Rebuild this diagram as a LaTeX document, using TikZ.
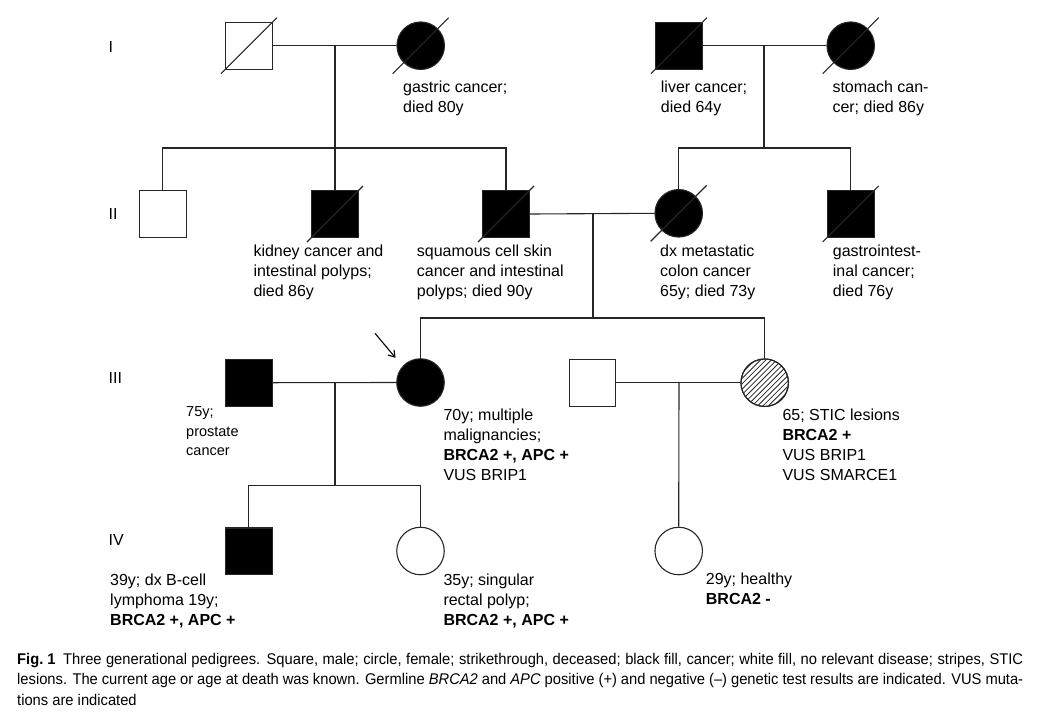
\documentclass[tikz,border=0pt]{standalone}
\usepackage{fontspec}
\setmainfont{Liberation Sans}
\newfontfamily\capfont[FakeStretch=0.95,Ligatures=TeX]{Liberation Sans}
\usetikzlibrary{calc,arrows.meta}
\newcommand\strikeout[1]{\draw[ln] ($(#1.center)+(-28,28)$) -- ($(#1.center)+(28,-28)$);}
\begin{document}
\begin{tikzpicture}[x=1pt,y=-1pt,
  ln/.style={line width=1.1pt,draw=black!85},
  sq/.style={rectangle,draw=black!85,line width=1.1pt,minimum size=46.7pt,inner sep=0pt,fill=white},
  ci/.style={circle,draw=black!85,line width=1.1pt,minimum size=47.5pt,inner sep=0pt,fill=white},
  aff/.style={fill=black},
  lbl/.style={anchor=base west,align=left,inner sep=0pt,font=\fontsize{16}{20}\selectfont},
  slbl/.style={anchor=base west,align=left,inner sep=0pt,font=\fontsize{14.5}{19.3}\selectfont},
  gen/.style={anchor=west,inner sep=0pt,font=\fontsize{16}{20}\selectfont}]
\useasboundingbox (0,0) rectangle (1042,724);
\fill[white] (0,0) rectangle (1042,724);

% generation labels
\node[gen] (gI) at (108.5,47) {I};
\node[gen] (gII) at (108.5,214) {II};
\node[gen] (gIII) at (108.5,378) {III};
\node[gen] (gIV) at (108.5,540) {IV};

% coordinates for couple midpoints and sibship lines
\coordinate (mI1) at (335,45.7);
\coordinate (sI1) at (335,148);
\coordinate (mI2) at (764,45.7);
\coordinate (sI2) at (764,148);
\coordinate (mII) at (593,213.3);
\coordinate (sII) at (593,318);
\coordinate (mIII1) at (335,382.5);
\coordinate (sIII1) at (335,485.7);
\coordinate (mIII2) at (679,382.7);

% Generation I
\node[sq] (I1) at (249,45.7) {};
\node[ci,aff] (I2) at (420.7,45.7) {};
\node[sq,aff] (I3) at (679,45.7) {};
\node[ci,aff] (I4) at (850.7,45.7) {};

% Generation II
\node[sq] (II1) at (162.7,214) {};
\node[sq,aff] (II2) at (335,214) {};
\node[sq,aff] (II3) at (506,214) {};
\node[ci,aff] (II4) at (678.7,213.3) {};
\node[sq,aff] (II5) at (850.7,214) {};

% Generation III
\node[sq,aff] (III1) at (248.7,382.7) {};
\node[ci,aff] (III2) at (420.5,382.5) {};
\node[sq] (III3) at (592.5,382.7) {};
\node[ci] (III4) at (764.7,382.7) {};

% Generation IV
\node[sq,aff] (IV1) at (248.7,551.3) {};
\node[ci] (IV2) at (420.5,551) {};
\node[ci] (IV3) at (678.7,551) {};

% hatching of III4
\begin{scope}[shift={(III4.center)}]
  \clip (0,0) circle (23.2);
  \foreach \i in {-6,...,6}
    \draw[line width=0.8pt,black!85] ({\i*3.8*0.7071-30},{\i*3.8*0.7071+30}) -- ({\i*3.8*0.7071+30},{\i*3.8*0.7071-30});
\end{scope}
\draw[ln] (III4) circle (23.75);

% couple lines
\draw[ln] (I1.east) -- (I2.west);
\draw[ln] (I3.east) -- (I4.west);
\draw[ln] (II3.east) -- (II4.west);
\draw[ln] (III1.east) -- (III2.west);
\draw[ln] (III3.east) -- (III4.west);

% descent lines
\draw[ln] (mI1) -- (sI1);
\draw[ln] (II1.north) |- (sI1) -| (II3.north);
\draw[ln] (II2.north) -- (II2.north |- sI1);
\draw[ln] (mI2) -- (sI2);
\draw[ln] (II4.north) |- (sI2) -| (II5.north);
\draw[ln] (mII) -- (sII);
\draw[ln] (III2.north) |- (sII) -| (III4.north);
\draw[ln] (mIII1) -- (sIII1);
\draw[ln] (IV1.north) |- (sIII1) -| (IV2.north);
\draw[ln] (mIII2) -- (IV3.north);

% deceased strikes
\strikeout{I1}
\strikeout{I2}
\strikeout{I3}
\strikeout{I4}
\strikeout{II2}
\strikeout{II3}
\strikeout{II4}
\strikeout{II5}

% proband arrow
\coordinate (arrS) at (375,333.3);
\coordinate (arrE) at (395.5,357.8);
\draw[line width=1.1pt,black,-{Straight Barb[length=6pt,width=8pt]}] (arrS) -- (arrE);

% labels (anchored at the baseline of the last line)
\node[lbl] (tI2) at (403,112.7) {gastric cancer;\\died 80y};
\node[lbl] (tI3) at (660.7,112.7) {liver cancer;\\died 64y};
\node[lbl] (tI4) at (832.3,112.7) {stomach can-\\cer; died 86y};
\node[lbl] (tII2) at (253.3,296.3) {kidney cancer and\\intestinal polyps;\\died 86y};
\node[lbl] (tII3) at (416.7,296.3) {squamous cell skin\\cancer and intestinal\\polyps; died 90y};
\node[lbl] (tII4) at (660,296.3) {dx metastatic\\colon cancer\\65y; died 73y};
\node[lbl] (tII5) at (832.7,296.3) {gastrointest-\\inal cancer;\\died 76y};
\node[slbl] (tIII1) at (186,455.3) {75y;\\prostate\\cancer};
\node[lbl] (tIII2) at (443.3,480) {70y; multiple\\malignancies;\\\textbf{BRCA2 +, APC +}\\VUS BRIP1};
\node[lbl] (tIII4) at (782.3,480) {65; STIC lesions\\\textbf{BRCA2 +}\\VUS BRIP1\\VUS SMARCE1};
\node[lbl] (tIV1) at (110,625) {39y; dx B-cell\\lymphoma 19y;\\\textbf{BRCA2 +, APC +}};
\node[lbl] (tIV2) at (443.3,625) {35y; singular\\rectal polyp;\\\textbf{BRCA2 +, APC +}};
\node[lbl] (tIV3) at (705.7,604.5) {29y; healthy\\\textbf{BRCA2 -}};

% caption
\node[anchor=base west,align=left,inner sep=0pt,font=\capfont\fontsize{15.5}{20.5}\selectfont] (cap) at (17,705)
{\makebox[1006pt][s]{\textbf{Fig.\kern0.25em1}\kern0.5em Three generational pedigrees. Square, male; circle, female; strikethrough, deceased; black fill, cancer; white fill, no relevant disease; stripes, STIC}\\
\makebox[1006pt][s]{lesions. The current age or age at death was known. Germline \textit{BRCA2} and \textit{APC} positive (+) and negative (–) genetic test results are indicated. VUS muta-}\\
tions are indicated};
\end{tikzpicture}
\end{document}
